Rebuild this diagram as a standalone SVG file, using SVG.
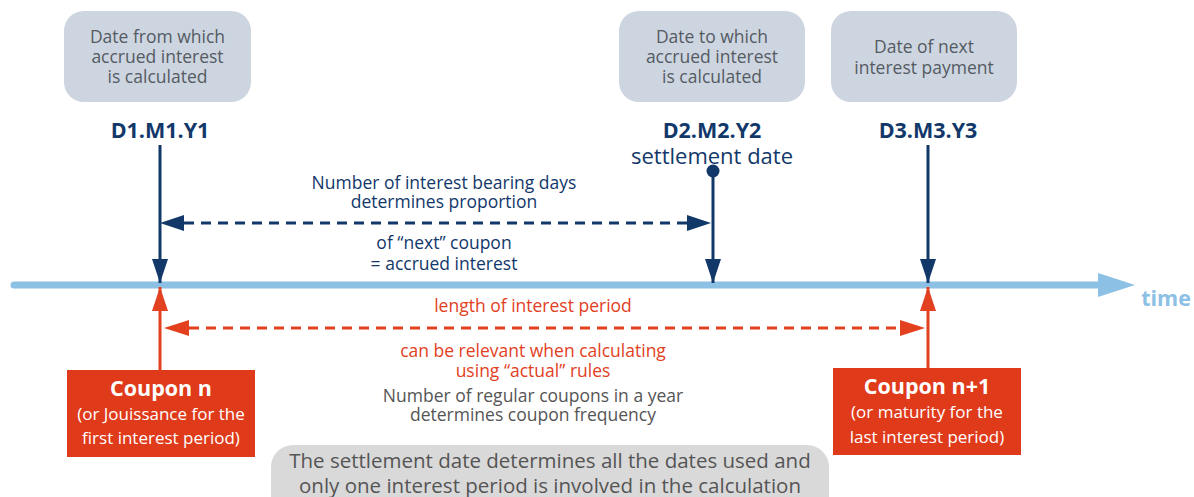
<svg xmlns="http://www.w3.org/2000/svg" width="1194" height="497" viewBox="0 0 1194 497">
<style>
text{font-family:"Open Sans","Noto Sans","DejaVu Sans",sans-serif;text-anchor:middle}
.lbl{font-size:17.5px;fill:#555b63}
.date{font-size:21.5px;font-weight:bold;fill:#12386a}
.navy{font-size:17.5px;fill:#12386a}
.red{font-size:17.5px;fill:#e2401e}
.grey{font-size:17.5px;fill:#555555}
.wt{font-size:17px;fill:#ffffff}
.wb{font-size:21.5px;font-weight:bold;fill:#ffffff}
.box{fill:#cdd5e0}
.cbox{fill:#df3a1a}
.nl{stroke:#12386a;stroke-width:3;fill:none}
.rl{stroke:#e2401e;stroke-width:3;fill:none}
</style>
<defs>
<marker id="an" viewBox="0 0 24 16" refX="24" refY="8" markerWidth="24" markerHeight="16" markerUnits="userSpaceOnUse" orient="auto"><path d="M0,0 L24,8 L0,16 Z" fill="#12386a"/></marker>
<marker id="ar" viewBox="0 0 24 16" refX="24" refY="8" markerWidth="24" markerHeight="16" markerUnits="userSpaceOnUse" orient="auto"><path d="M0,0 L24,8 L0,16 Z" fill="#e2401e"/></marker>
</defs>
<g id="timeline">
<line x1="14" y1="285" x2="1102" y2="285" stroke="#8cc0e4" stroke-width="7" stroke-linecap="round"/>
<path d="M1098,273 L1135,285 L1098,297 Z" fill="#8cc0e4"/>
<text x="1166" y="306" style="font-size:21.5px;font-weight:bold;fill:#8cc0e4">time</text>
</g>
<g id="connectors">
<line class="nl" x1="160" y1="145" x2="160" y2="283" marker-end="url(#an)"/>
<line class="nl" x1="713" y1="171" x2="713" y2="283" marker-end="url(#an)"/>
<circle cx="713" cy="171" r="6.5" fill="#12386a"/>
<line class="nl" x1="928" y1="145" x2="928" y2="283" marker-end="url(#an)"/>
<line class="nl" x1="184" y1="223" x2="688" y2="223" stroke-dasharray="10,7"/>
<path d="M160,223 L184,215 L184,231 Z" fill="#12386a"/>
<path d="M711,223 L687,215 L687,231 Z" fill="#12386a"/>
<line class="rl" x1="160" y1="370" x2="160" y2="287" marker-end="url(#ar)"/>
<line class="rl" x1="928" y1="368" x2="928" y2="287" marker-end="url(#ar)"/>
<line class="rl" x1="189" y1="328" x2="901" y2="328" stroke-dasharray="10,7"/>
<path d="M164,328 L189,320 L189,336 Z" fill="#e2401e"/>
<path d="M925,328 L900,320 L900,336 Z" fill="#e2401e"/>
</g>
<g id="from">
<rect class="box" x="64" y="11" width="187" height="91" rx="20"/>
<text class="lbl" x="157.5" y="43"><tspan x="157.5" y="43">Date from which</tspan><tspan x="157.5" y="63">accrued interest</tspan><tspan x="157.5" y="83">is calculated</tspan></text>
<text class="date" x="160" y="138">D1.M1.Y1</text>
</g>
<g id="to">
<rect class="box" x="619" y="11" width="186" height="91" rx="20"/>
<text class="lbl" x="712" y="43"><tspan x="712" y="43">Date to which</tspan><tspan x="712" y="63">accrued interest</tspan><tspan x="712" y="83">is calculated</tspan></text>
<text class="date" x="712" y="138">D2.M2.Y2</text>
<text x="712" y="164" style="font-size:22px;fill:#12386a">settlement date</text>
</g>
<g id="next">
<rect class="box" x="831" y="11" width="186" height="91" rx="20"/>
<text class="lbl" x="924" y="53"><tspan x="924" y="53">Date of next</tspan><tspan x="924" y="74">interest payment</tspan></text>
<text class="date" x="928" y="138">D3.M3.Y3</text>
</g>
<g id="days-label">
<text class="navy" x="444" y="189"><tspan x="444" y="189">Number of interest bearing days</tspan><tspan x="444" y="208">determines proportion</tspan></text>
<text class="navy" x="444" y="249"><tspan x="444" y="249">of “next” coupon</tspan><tspan x="444" y="270">= accrued interest</tspan></text>
</g>
<g id="period-label">
<text class="red" x="533" y="312">length of interest period</text>
<text class="red" x="533" y="357"><tspan x="533" y="357">can be relevant when calculating</tspan><tspan x="533" y="377">using “actual” rules</tspan></text>
<text class="grey" x="533" y="402"><tspan x="533" y="402">Number of regular coupons in a year</tspan><tspan x="533" y="421">determines coupon frequency</tspan></text>
</g>
<g id="coupon-n">
<rect class="cbox" x="67" y="370" width="188" height="87"/>
<text class="wb" x="161" y="396">Coupon n</text>
<text class="wt" x="161" y="420"><tspan x="161" y="420">(or Jouissance for the</tspan><tspan x="161" y="444">first interest period)</tspan></text>
</g>
<g id="coupon-n1">
<rect class="cbox" x="833" y="368" width="188" height="87"/>
<text class="wb" x="927" y="394">Coupon n+1</text>
<text class="wt" x="927" y="418"><tspan x="927" y="418">(or maturity for the</tspan><tspan x="927" y="443">last interest period)</tspan></text>
</g>
<g id="note">
<rect x="271" y="445" width="558" height="75" rx="22" fill="#d9d9d9"/>
<text x="550" y="468" style="font-size:20.5px;fill:#555555"><tspan x="550" y="468">The settlement date determines all the dates used and</tspan><tspan x="550" y="493">only one interest period is involved in the calculation</tspan></text>
</g>
</svg>
